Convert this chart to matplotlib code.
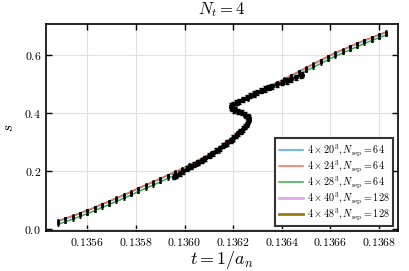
import numpy as np
import matplotlib
matplotlib.use("Agg")
import matplotlib.pyplot as plt
from matplotlib.ticker import FuncFormatter

plt.rcParams['mathtext.fontset'] = 'cm'
plt.rcParams['font.family'] = 'serif'
plt.rcParams['font.serif'] = ['DejaVu Serif']

# small volumes: common t path (bends back through the S region)
t_small = [0.13548, 0.13551, 0.13554, 0.13557, 0.13560, 0.13563, 0.13566, 0.13569,
           0.13572, 0.13575, 0.13578, 0.13581, 0.13584, 0.13587, 0.13590, 0.13593,
           0.13596, 0.13599, 0.13602, 0.13605, 0.13608, 0.13611, 0.13614, 0.13617,
           0.13620, 0.136235, 0.13626, 0.13625, 0.13621, 0.13622, 0.13626,
           0.13629, 0.13632, 0.13635, 0.13638, 0.13641,
           0.13644, 0.13647, 0.13650, 0.13653, 0.13656, 0.13659, 0.13662, 0.13665,
           0.13668, 0.13671, 0.13674, 0.13677, 0.13680, 0.13683]

s_20 = [0.027, 0.036, 0.045, 0.054, 0.064, 0.074, 0.085, 0.095, 0.106, 0.117, 0.128,
        0.140, 0.151, 0.162, 0.173, 0.185, 0.196, 0.207, 0.220, 0.233, 0.247, 0.261,
        0.278, 0.299, 0.314, 0.342, 0.367, 0.393, 0.413, 0.436, 0.454,
        0.468, 0.480, 0.492, 0.503, 0.516, 0.529,
        0.542, 0.555, 0.568, 0.581, 0.594, 0.606, 0.617, 0.628, 0.639, 0.649, 0.659,
        0.669, 0.678]
s_24 = [0.029, 0.038, 0.047, 0.056, 0.066, 0.076, 0.087, 0.097, 0.108, 0.119, 0.130,
        0.142, 0.153, 0.164, 0.175, 0.187, 0.198, 0.209, 0.222, 0.235, 0.249, 0.263,
        0.280, 0.302, 0.318, 0.345, 0.370, 0.395, 0.415, 0.438, 0.456,
        0.470, 0.482, 0.494, 0.505, 0.518, 0.531,
        0.544, 0.557, 0.570, 0.583, 0.596, 0.608, 0.619, 0.630, 0.641, 0.651, 0.661,
        0.671, 0.680]
s_28 = [0.017, 0.026, 0.035, 0.044, 0.054, 0.064, 0.075, 0.085, 0.096, 0.107, 0.118,
        0.130, 0.141, 0.152, 0.163, 0.175, 0.186, 0.197, 0.210, 0.223, 0.237, 0.251,
        0.268, 0.290, 0.305, 0.333, 0.360, 0.388, 0.410, 0.432, 0.448,
        0.462, 0.473, 0.484, 0.495, 0.507, 0.520,
        0.533, 0.546, 0.558, 0.571, 0.584, 0.596, 0.607, 0.618, 0.629, 0.640, 0.650,
        0.660, 0.669]

# large volumes: S-shaped (multi-valued) curves
t_40 = [0.135955, 0.13598, 0.13601, 0.13604, 0.13607, 0.13610, 0.13613, 0.13616,
        0.13619, 0.13621, 0.13623, 0.136248, 0.136262, 0.136265, 0.13625, 0.13622,
        0.136195, 0.136192, 0.13621, 0.13624, 0.13627, 0.13630, 0.13633, 0.13636,
        0.13640, 0.13644, 0.13648]
s_40 = [0.181, 0.193, 0.208, 0.222, 0.237, 0.253, 0.270, 0.288, 0.307, 0.322, 0.337,
        0.353, 0.370, 0.383, 0.395, 0.406, 0.416, 0.425, 0.436, 0.447, 0.460, 0.472,
        0.483, 0.493, 0.505, 0.517, 0.530]
t_48 = [0.135965, 0.135995, 0.136025, 0.136055, 0.136085, 0.136115, 0.136145, 0.136175,
        0.13620, 0.13622, 0.13624, 0.136256, 0.136266, 0.136260, 0.136236, 0.136205,
        0.136190, 0.136200, 0.136225, 0.136255, 0.136285, 0.136315, 0.136345, 0.136380,
        0.136420, 0.136460, 0.136485]
s_48 = [0.184, 0.200, 0.215, 0.229, 0.245, 0.261, 0.279, 0.297, 0.314, 0.330, 0.345,
        0.362, 0.377, 0.389, 0.401, 0.411, 0.420, 0.430, 0.441, 0.453, 0.466, 0.477,
        0.488, 0.499, 0.511, 0.523, 0.533]

labels = [r'$4\times 20^3, N_{\rm rep} = 64$', r'$4\times 24^3, N_{\rm rep} = 64$',
          r'$4\times 28^3, N_{\rm rep} = 64$', r'$4\times 40^3, N_{\rm rep} = 128$',
          r'$4\times 48^3, N_{\rm rep} = 128$']
colors = ['#3FA6EE', '#E8714F', '#3BAA45', '#DDAAE6', '#9A7A12']

fig = plt.figure(figsize=(4.09, 2.71), dpi=100)
ax = fig.add_axes([0.1125, 0.1476, 0.8605, 0.7638])

series = [(t_small, s_20), (t_small, s_24), (t_small, s_28), (t_40, s_40), (t_48, s_48)]
for i, (t, s) in enumerate(series):
    big = i >= 3
    ax.plot(t, s, color=colors[i], lw=2.0 if big else 1.1, label=labels[i], zorder=2)
    if big:
        ax.errorbar(t, s, yerr=0.009, fmt='o', color='black', ms=2.6,
                    elinewidth=1.2, capsize=1.6, capthick=1.0, zorder=3)
    else:
        ax.errorbar(t, s, yerr=0.005, fmt='o', color='black', ms=1.1,
                    elinewidth=0.6, capsize=0.9, capthick=0.6, zorder=3)

ax.set_xlim(0.13543, 0.136878)
ax.set_ylim(-0.006, 0.707)
ax.set_xticks([0.1356, 0.1358, 0.1360, 0.1362, 0.1364, 0.1366, 0.1368])
ax.set_yticks([0.0, 0.2, 0.4, 0.6])
ax.xaxis.set_major_formatter(FuncFormatter(lambda v, p: '$%.4f$' % v))
ax.yaxis.set_major_formatter(FuncFormatter(lambda v, p: '$%.1f$' % v))
ax.tick_params(direction='in', top=True, right=True, length=4, width=1.0, labelsize=8.5)
ax.grid(True, color='#e0e0e0', lw=0.8)
ax.set_axisbelow(True)
for sp in ax.spines.values():
    sp.set_linewidth(1.2)

ax.set_title(r'$N_t = 4$', fontsize=12, pad=7)
ax.set_xlabel(r'$t = 1/a_n$', fontsize=13, labelpad=0)
ax.set_ylabel(r'$s$', fontsize=11, labelpad=6)

leg = ax.legend(loc='lower right', fontsize=7.3, fancybox=False, framealpha=1,
                edgecolor='#333333', handlelength=2.3, borderpad=0.4, labelspacing=0.02,
                handletextpad=0.4, borderaxespad=0.45)
leg.get_frame().set_linewidth(1.5)

fig.savefig('out.png', dpi=100)
